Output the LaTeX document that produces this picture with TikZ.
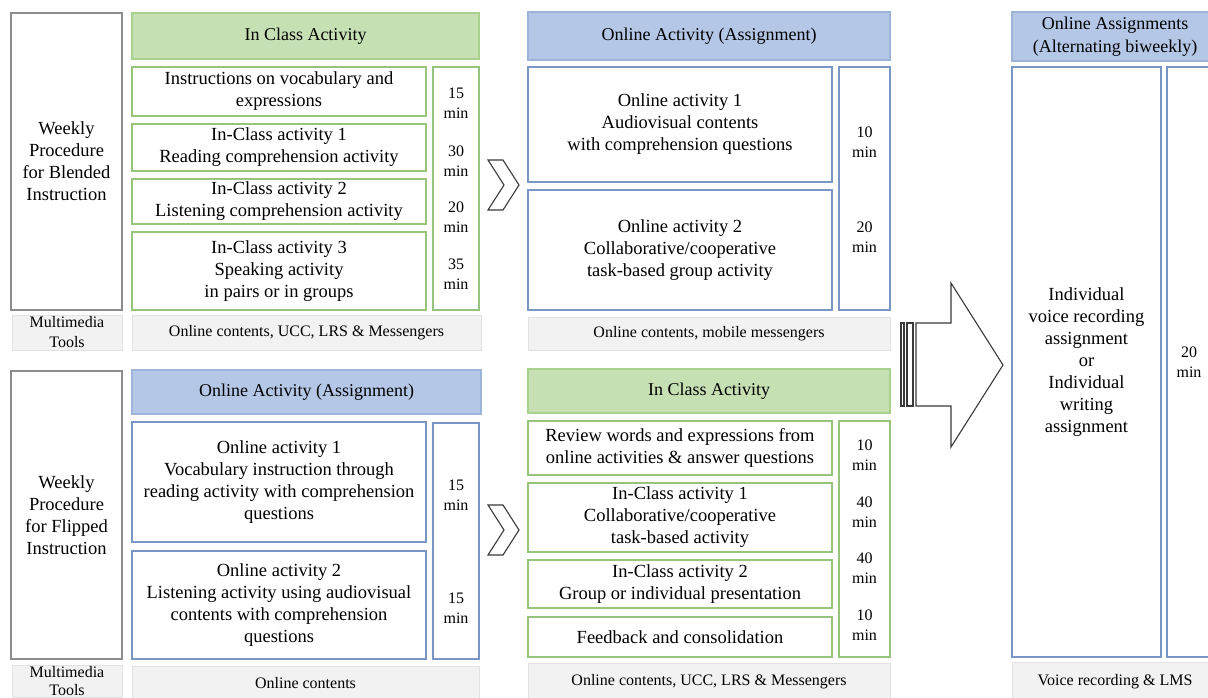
\documentclass[tikz,border=0pt]{standalone}
\usepackage{fontspec}
\setmainfont{Liberation Serif}
\usepackage{tikz}
\usetikzlibrary{calc}
\definecolor{hdrgreen}{HTML}{C6E0B4}
\definecolor{linegreen}{HTML}{A9D18E}
\definecolor{rowgreen}{HTML}{97C47B}
\definecolor{hdrblue}{HTML}{B4C7E7}
\definecolor{lineblue}{HTML}{9DB3DA}
\definecolor{rowblue}{HTML}{7A96C4}
\definecolor{toolgray}{HTML}{F2F2F2}
\definecolor{toolline}{HTML}{E2E2E2}
\definecolor{weekgray}{HTML}{8C8C8C}
\definecolor{arrowgray}{HTML}{3A3A3A}

\begin{document}
\begin{tikzpicture}[x=1pt,y=-1pt,
  every node/.style={anchor=north west,inner sep=0pt,outer sep=0pt,align=center,
    font=\fontsize{18.5}{22}\selectfont},
  sz/.style 2 args={minimum width=#1pt,minimum height=#2pt},
  weekbox/.style={draw=weekgray,line width=1.3pt},
  toolbox/.style={draw=toolline,fill=toolgray,line width=1pt,font=\fontsize{16}{20}\selectfont},
  greenhdr/.style={draw=linegreen,fill=hdrgreen,line width=1.3pt,font=\fontsize{18}{23}\selectfont},
  bluehdr/.style={draw=lineblue,fill=hdrblue,line width=1.3pt,font=\fontsize{18}{23}\selectfont},
  greenrow/.style={draw=rowgreen,line width=1.3pt},
  bluerow/.style={draw=rowblue,line width=1.3pt},
  minlbl/.style={anchor=center,font=\fontsize{16}{20}\selectfont},
  chev/.style={draw=arrowgray,line width=1.1pt,line join=miter}]

\fill[white] (0,0) rectangle (1208,697);
\useasboundingbox (0,0) rectangle (1208,697);
\clip (0,0) rectangle (1208,697);

% blended instruction (top)
\node[weekbox,sz={111}{297}] (weekA) at (11,13) {Weekly\\Procedure\\for Blended\\Instruction};
\node[toolbox,sz={110}{35}] (mediaA) at (12,315) {Multimedia\\Tools};

\node[greenhdr,sz={347}{46}] (hdrA) at (132,13) {In Class Activity};
\node[greenrow,sz={294}{49}] (classA1) at (132,67) {Instructions on vocabulary and\\expressions};
\node[greenrow,sz={294}{47}] (classA2) at (132,124) {In-Class activity 1\\Reading comprehension activity};
\node[greenrow,sz={294}{45}] (classA3) at (132,179) {In-Class activity 2\\Listening comprehension activity};
\node[greenrow,sz={294}{78}] (classA4) at (132,232) {In-Class activity 3\\Speaking activity\\in pairs or in groups};
\node[greenrow,sz={46}{243}] (minA) at (433,67) {};
\node[minlbl] (minA1) at (456,103) {15\\min};
\node[minlbl] (minA2) at (456,161) {30\\min};
\node[minlbl] (minA3) at (456,217) {20\\min};
\node[minlbl] (minA4) at (456,274) {35\\min};
\node[toolbox,sz={349}{35}] (toolA) at (132,315) {Online contents, UCC, LRS \& Messengers};

\draw[chev] (488,160) -- (503,160) -- (519,185) -- (503,210) -- (488,210) -- (504,185) -- cycle;

\node[bluehdr,sz={362}{48}] (hdrB) at (528,12) {Online Activity (Assignment)};
\node[bluerow,sz={304}{115}] (onlineB1) at (528,67) {Online activity 1\\Audiovisual contents\\with comprehension questions};
\node[bluerow,sz={304}{120}] (onlineB2) at (528,190) {Online activity 2\\Collaborative/cooperative\\task-based group activity};
\node[bluerow,sz={51}{243}] (minB) at (839,67) {};
\node[minlbl] (minB1) at (864.5,142) {10\\min};
\node[minlbl] (minB2) at (864.5,237) {20\\min};
\node[toolbox,sz={362}{33}] (toolB) at (528,317) {Online contents, mobile messengers};

% flipped instruction (bottom)
\node[weekbox,sz={111}{288}] (weekC) at (11,371) {Weekly\\Procedure\\for Flipped\\Instruction};
\node[toolbox,sz={110}{32},font=\fontsize{16}{18}\selectfont] (mediaC) at (12,665) {Multimedia\\Tools};

\node[bluehdr,sz={349}{44}] (hdrC) at (132,370) {Online Activity (Assignment)};
\node[bluerow,sz={294}{120}] (onlineC1) at (132,422) {Online activity 1\\Vocabulary instruction through\\reading activity with comprehension\\questions};
\node[bluerow,sz={294}{108}] (onlineC2) at (132,551) {Online activity 2\\Listening activity using audiovisual\\contents with comprehension\\questions};
\node[bluerow,sz={46}{236}] (minC) at (433,423) {};
\node[minlbl] (minC1) at (456,495) {15\\min};
\node[minlbl] (minC2) at (456,608) {15\\min};
\node[toolbox,sz={347}{34}] (toolC) at (132,666) {Online contents};

\draw[chev] (488,505) -- (503,505) -- (519,530) -- (503,555) -- (488,555) -- (504,530) -- cycle;

\node[greenhdr,sz={362}{44}] (hdrD) at (528,369) {In Class Activity};
\node[greenrow,sz={304}{54}] (classD1) at (528,421) {Review words and expressions from\\online activities \& answer questions};
\node[greenrow,sz={304}{69}] (classD2) at (528,483) {In-Class activity 1\\Collaborative/cooperative\\task-based activity};
\node[greenrow,sz={304}{48}] (classD3) at (528,560) {In-Class activity 2\\Group or individual presentation};
\node[greenrow,sz={304}{40}] (classD4) at (528,617) {Feedback and consolidation};
\node[greenrow,sz={51}{236}] (minD) at (839,421) {};
\node[minlbl] (minD1) at (864.5,455) {10\\min};
\node[minlbl] (minD2) at (864.5,512) {40\\min};
\node[minlbl] (minD3) at (864.5,568) {40\\min};
\node[minlbl] (minD4) at (864.5,625) {10\\min};
\node[toolbox,sz={362}{38}] (toolD) at (528,663) {Online contents, UCC, LRS \& Messengers};

% striped arrow to the assignments
\draw[chev] (901,323) rectangle (904,406);
\draw[chev] (907,323) rectangle (913,406);
\draw[chev] (916,323) -- (951,323) -- (951,283) -- (1003,365) -- (951,447) -- (951,406) -- (916,406) -- cycle;

% online assignments (right)
\node[bluehdr,sz={206}{49}] (hdrE) at (1012,12) {Online Assignments\\(Alternating biweekly)};
\node[bluerow,sz={149}{590}] (taskE) at (1012,67) {Individual\\voice recording\\assignment\\or\\Individual\\writing\\assignment};
\node[bluerow,sz={44}{590},font=\fontsize{16}{20}\selectfont] (minE) at (1167,67) {20\\min};
\node[toolbox,sz={206}{40}] (toolE) at (1012,662) {Voice recording \& LMS};
\end{tikzpicture}
\end{document}
